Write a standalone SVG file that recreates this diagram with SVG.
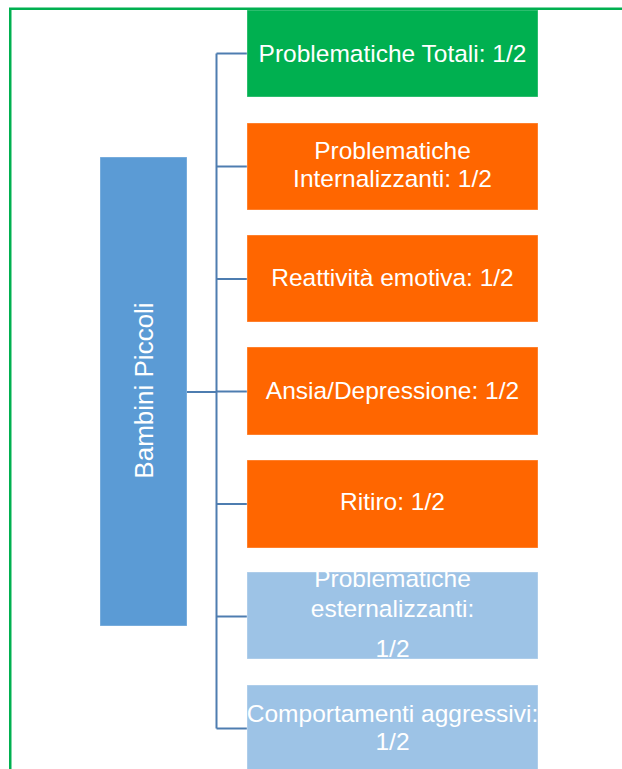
<svg xmlns="http://www.w3.org/2000/svg" width="622" height="769" viewBox="0 0 622 769">
  <style>
    .box { stroke: #ffffff; stroke-opacity: 0.35; stroke-width: 1; }
    .green { fill: #00B050; }
    .orange { fill: #FF6600; }
    .light { fill: #9DC3E6; }
    .root { fill: #5B9BD5; }
    .lbl { font-family: "Liberation Sans", Arial, sans-serif; font-size: 24.5px; fill: #ffffff; text-anchor: middle; }
    .conn { stroke: #4E7DB0; stroke-width: 2; fill: none; }
  </style>

  <rect width="622" height="769" fill="#ffffff"/>

  <!-- root node -->
  <g id="node-root">
    <rect class="box root" x="100" y="157" width="87" height="469"/>
    <text class="lbl" style="font-size:26px" transform="translate(153,390.5) rotate(-90)">Bambini Piccoli</text>
  </g>

  <!-- connectors -->
  <g id="connectors">
    <path class="conn" d="M187 392 H216.5"/>
    <path class="conn" d="M216.5 53.5 V728.5"/>
    <path class="conn" d="M216.5 53.5 H247"/>
    <path class="conn" d="M216.5 166.5 H247"/>
    <path class="conn" d="M216.5 279 H247"/>
    <path class="conn" d="M216.5 391.5 H247"/>
    <path class="conn" d="M216.5 504 H247"/>
    <path class="conn" d="M216.5 616.5 H247"/>
    <path class="conn" d="M216.5 728.5 H247"/>
  </g>

  <g id="node-totali">
    <rect class="box green" x="247" y="10" width="291" height="87"/>
    <text class="lbl" x="392.5" y="62">Problematiche Totali: 1/2</text>
  </g>

  <g id="node-internalizzanti">
    <rect class="box orange" x="247" y="123" width="291" height="87"/>
    <text class="lbl" x="392.5" y="159">Problematiche</text>
    <text class="lbl" x="392.5" y="187">Internalizzanti: 1/2</text>
  </g>

  <g id="node-reattivita">
    <rect class="box orange" x="247" y="235" width="291" height="87"/>
    <text class="lbl" x="392.5" y="286">Reattività emotiva: 1/2</text>
  </g>

  <g id="node-ansia">
    <rect class="box orange" x="247" y="347" width="291" height="88"/>
    <text class="lbl" x="392.5" y="399">Ansia/Depressione: 1/2</text>
  </g>

  <g id="node-ritiro">
    <rect class="box orange" x="247" y="460" width="291" height="88"/>
    <text class="lbl" x="392.5" y="510">Ritiro: 1/2</text>
  </g>

  <g id="node-esternalizzanti">
    <rect class="box light" x="247" y="572" width="291" height="87"/>
    <text class="lbl" x="392.5" y="587">Problematiche</text>
    <text class="lbl" x="392.5" y="617">esternalizzanti:</text>
    <text class="lbl" x="392.5" y="657">1/2</text>
  </g>

  <g id="node-aggressivi">
    <rect class="box light" x="247" y="685" width="291" height="90"/>
    <text class="lbl" x="392.5" y="722">Comportamenti aggressivi:</text>
    <text class="lbl" x="392.5" y="750">1/2</text>
  </g>

  <!-- outer frame -->
  <rect x="10.25" y="8.75" width="700" height="800" fill="none" stroke="#00B050" stroke-width="2.5"/>
</svg>
